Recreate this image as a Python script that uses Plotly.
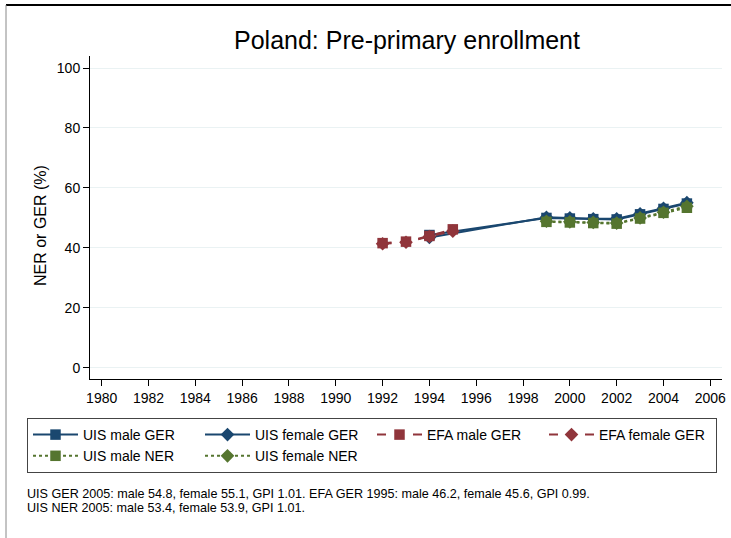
import plotly.graph_objects as go

years_uis = [1994, 1999, 2000, 2001, 2002, 2003, 2004, 2005]
uis_male_ger = [44.3, 50.0, 49.8, 49.6, 49.5, 51.2, 53.0, 54.8]
uis_female_ger = [43.5, 50.2, 50.0, 49.7, 49.7, 51.4, 53.2, 55.1]

years_efa = [1992, 1993, 1994, 1995]
efa_male_ger = [41.6, 42.1, 44.0, 46.2]
efa_female_ger = [41.4, 41.9, 43.8, 45.6]

years_ner = [1999, 2000, 2001, 2002, 2003, 2004, 2005]
uis_male_ner = [48.7, 48.5, 48.3, 48.1, 49.8, 51.7, 53.4]
uis_female_ner = [48.9, 48.7, 48.5, 48.3, 50.0, 51.9, 53.9]

x_ticks = list(range(1980, 2007, 2))
y_ticks = [0, 20, 40, 60, 80, 100]

note_lines = [
    "UIS GER 2005: male 54.8, female 55.1, GPI 1.01. EFA GER 1995: male 46.2, female 45.6, GPI 0.99.",
    "UIS NER 2005: male 53.4, female 53.9, GPI 1.01.",
]

NAVY = "#1a476f"
MAROON = "#90353b"
GREEN = "#55752f"

fig = go.Figure()

def add(x, y, name, color, symbol, dash):
    fig.add_trace(go.Scatter(
        x=x, y=y, name=name, mode="lines+markers",
        line=dict(color=color, width=2, dash=dash),
        marker=dict(color=color, symbol=symbol, size=10.5),
    ))

add(years_uis, uis_male_ger, "UIS male GER", NAVY, "square", "solid")
add(years_uis, uis_female_ger, "UIS female GER", NAVY, "diamond", "solid")
add(years_efa, efa_male_ger, "EFA male GER", MAROON, "square", "dash")
add(years_efa, efa_female_ger, "EFA female GER", MAROON, "diamond", "dash")
add(years_ner, uis_male_ner, "UIS male NER", GREEN, "square", "dot")
add(years_ner, uis_female_ner, "UIS female NER", GREEN, "diamond", "dot")

L, R, T, B = 90, 722, 56, 379
W, H = 731, 538
pw, ph = R - L, B - T

def px(x):
    return (x - L) / pw

def py(y):
    return (B - y) / ph

fig.update_layout(
    width=W, height=H,
    margin=dict(l=L, r=W - R, t=T, b=H - B, autoexpand=False),
    paper_bgcolor="white", plot_bgcolor="white",
    font=dict(family="Liberation Sans, Arial, sans-serif", color="#000000", size=14),
    title=dict(text="Poland: Pre-primary enrollment", x=407 / W, xanchor="center", xref="container",
               y=1 - 40 / H, yanchor="middle", yref="container", font=dict(size=25)),
    xaxis=dict(range=[1979.5, 2006.5], tickvals=x_ticks, ticks="outside", ticklen=6,
               tickcolor="#000", showline=True, linecolor="#000", linewidth=1,
               showgrid=False, zeroline=False, tickfont=dict(size=14), automargin=False),
    yaxis=dict(range=[-3.7, 104], tickvals=y_ticks, ticks="outside", ticklen=6,
               tickcolor="#000", showline=True, linecolor="#000", linewidth=1,
               showgrid=True, gridcolor="#eaf2f3", gridwidth=1, zeroline=False,
               tickfont=dict(size=14), automargin=False),
    legend=dict(orientation="h", x=px(27), y=py(418), xanchor="left", yanchor="top",
                bordercolor="#444", borderwidth=1, bgcolor="white",
                entrywidth=112, entrywidthmode="pixels", itemwidth=45,
                font=dict(size=14), tracegroupgap=0),
    showlegend=True,
)

fig.add_annotation(
    text="NER or GER (%)", textangle=-90, xref="paper", yref="paper",
    x=px(40), y=py(226), xanchor="center", yanchor="middle", showarrow=False,
    font=dict(size=16),
)

for i, line in enumerate(note_lines):
    fig.add_annotation(
        text=line, xref="paper", yref="paper", x=px(26), y=py(494 + 14 * i),
        xanchor="left", yanchor="middle", showarrow=False, align="left",
        font=dict(size=12.6), borderpad=0,
    )

fig.add_shape(type="line", xref="paper", yref="paper", x0=px(6), x1=px(731), y0=py(5), y1=py(5),
              line=dict(color="#000", width=2))
fig.add_shape(type="line", xref="paper", yref="paper", x0=px(6), x1=px(6), y0=py(5), y1=py(540),
              line=dict(color="#888", width=1))

fig.write_html("out.html", config={"displayModeBar": False},
               post_script="document.body.style.margin='0';document.body.style.overflow='hidden';")
